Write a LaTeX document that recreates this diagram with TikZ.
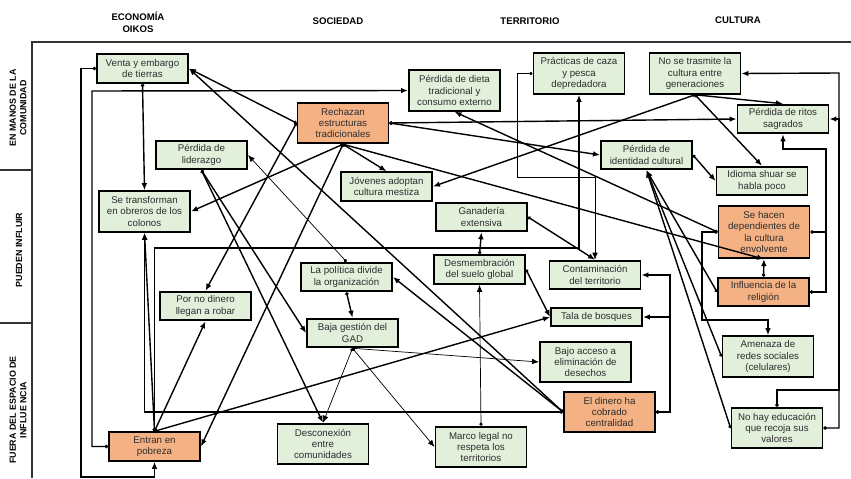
\documentclass[tikz,border=0pt]{standalone}
\usepackage{fontspec}
\setmainfont{Liberation Sans}
\usetikzlibrary{arrows.meta}
\definecolor{boxgreen}{RGB}{226,239,218}
\definecolor{boxorange}{RGB}{244,177,131}
\definecolor{txtgray}{RGB}{45,45,45}

\begin{document}
\begin{tikzpicture}[
		x=0.03cm, y=-0.03cm,
		box/.style={
			draw=black,
			line width=1.6pt,
			fill=boxgreen,
			rectangle,
			minimum width=2.73cm,
			minimum height=0.86cm,
			inner sep=1pt,
			align=center,
			text=txtgray,
			font=\fontsize{8.3}{9.6}\selectfont},
		box_hot/.style={box, fill=boxorange},
		three_lines/.style={minimum height=1.22cm},
		four_lines/.style={minimum height=1.57cm},
		one_line/.style={minimum height=0.56cm},
		link/.style={
			line width=1.2pt,
			{Circle[length=2.8pt]}-{Latex[length=6pt,width=4.8pt]}},
		link_thin/.style={link, line width=0.6pt},
		colhead/.style={font=\bfseries\fontsize{8.2}{10}\selectfont, align=center},
		rowhead/.style={font=\bfseries\fontsize{7.6}{9}\selectfont, align=center, rotate=90},
		frame/.style={line width=1.5pt, draw=black!80},
		]
		\useasboundingbox (0,0) rectangle (851,478);

		%Headers
		\node (h_eco)[colhead] at (138,22) {ECONOMÍA\\OIKOS};
		\node (h_soc)[colhead] at (338,21) {SOCIEDAD};
		\node (h_ter)[colhead] at (530,21) {TERRITORIO};
		\node (h_cul)[colhead] at (738,20) {CULTURA};
		\node (r_com)[rowhead] at (18,108) {EN MANOS DE LA\\COMUNIDAD};
		\node (r_inf)[rowhead] at (19,250) {PUEDEN INFLUIR};
		\node (r_out)[rowhead] at (18,410) {FUERA DEL ESPACIO DE\\INFLUE NCIA};
		\draw[frame] (32,478) |- (851,42);
		\draw[frame] (0,170) -- (32,170);
		\draw[frame] (0,323) -- (32,323);

		%Economia
		\node (venta)[box] at (142.5,68.5) {Venta y embargo\\de tierras};
		\node (obreros)[box, three_lines] at (144.5,211.5) {Se transforman\\en obreros de los\\colonos};
		\node (robar)[box] at (205.5,306) {Por no dinero\\llegan a robar};
		\node (pobreza)[box_hot] at (154.5,446.5) {Entran en\\pobreza};

		%Sociedad
		\node (rechazan)[box_hot, three_lines] at (343,123) {Rechazan\\estructuras\\tradicionales};
		\node (liderazgo)[box] at (201.5,155) {Pérdida de\\liderazgo};
		\node (jovenes)[box] at (386.5,186.5) {Jóvenes adoptan\\cultura mestiza};
		\node (dieta)[box, three_lines] at (454.5,90.5) {Pérdida de dieta\\tradicional y\\consumo externo};
		\node (politica)[box] at (346.5,277) {La política divide\\la organización};
		\node (gad)[box] at (352.5,333) {Baja gestión del\\GAD};
		\node (desconexion)[box, three_lines] at (323,444) {Desconexión\\entre\\comunidades};

		%Territorio
		\node (caza)[box, three_lines] at (579,73.5) {Prácticas de caza\\y pesca\\depredadora};
		\node (ganaderia)[box] at (481.5,217) {Ganadería\\extensiva};
		\node (desmembracion)[box] at (479.5,269.5) {Desmembración\\del suelo global};
		\node (contaminacion)[box] at (595,275) {Contaminación\\del territorio};
		\node (tala)[box, one_line] at (596.5,317) {Tala de bosques};
		\node (desechos)[box, three_lines] at (585.5,362) {Bajo acceso a\\eliminación de\\desechos};
		\node (dinero)[box_hot, three_lines] at (609.5,412) {El dinero ha\\cobrado\\centralidad};
		\node (marco)[box, three_lines] at (481,447) {Marco legal no\\respeta los\\territorios};

		%Cultura
		\node (trasmite)[box, three_lines] at (695,73.5) {No se trasmite la\\cultura entre\\generaciones};
		\node (ritos)[box] at (783,119) {Pérdida de ritos\\sagrados};
		\node (identidad)[box] at (646.5,155) {Pérdida de\\identidad cultural};
		\node (idioma)[box] at (762,181) {Idioma shuar se\\habla poco};
		\node (dependientes)[box_hot, four_lines] at (764,232) {Se hacen\\dependientes de\\la cultura\\envolvente};
		\node (religion)[box_hot] at (763.5,292) {Influencia de la\\religión};
		\node (amenaza)[box, three_lines] at (768,356.5) {Amenaza de\\redes sociales\\(celulares)};
		\node (educacion)[box, three_lines] at (777,428) {No hay educación\\que recoja sus\\valores};

		%Links from the economy column
		\draw[link] (venta.west) -| (81,477) -| (pobreza.south);
		\draw[link] (venta.south) -- (obreros.north);
		\draw[link] (pobreza.west) -| (92,91) -- (dieta.west);
		\draw[link] (pobreza.north) |- (579,248) -- (caza.south);
		\draw[link] (pobreza.north) -- (obreros.south);
		\draw[link] (pobreza.north) -- (robar.south);
		\draw[link] (pobreza.north) -- (tala.west);

		%Links from the society column
		\draw[link] (rechazan.west) -- (venta.east);
		\draw[link] (rechazan.west) -- (robar.north);
		\draw[link] (rechazan.east) -- (ritos.west);
		\draw[link] (rechazan.east) -- (identidad.west);
		\draw[link] (rechazan.south) -- (jovenes.north);
		\draw[link] (rechazan.south) -- (obreros.east);
		\draw[link] (rechazan.south) -- (dependientes.south);
		\draw[link] (rechazan.south) -- (pobreza.east);
		\draw[link] (liderazgo.south) -- (gad.west);
		\draw[link] (liderazgo.south) -- (desconexion.north);
		\draw[link_thin] (politica.north) -- (liderazgo.east);
		\draw[link] (politica.south) -- (gad.north);
		\draw[link_thin] (gad.south) -- (desconexion.north);
		\draw[link_thin] (gad.south) -- (marco.west);
		\draw[link_thin] (gad.south) -- (desechos.west);

		%Links from the territory column
		\draw[link_thin] (caza.west) -| (517,177) -| (contaminacion.north);
		\draw[link] (ganaderia.east) -- (contaminacion.north);
		\draw[link] (desmembracion.north) -- (ganaderia.south);
		\draw[link] (desmembracion.east) -- (tala.west);
		\draw[link_thin] (marco.north) -- (desmembracion.south);
		\draw[link] (dinero.west) -- (venta.east);
		\draw[link] (dinero.west) -- (politica.east);
		\draw[link] (dinero.west) -| (obreros.south);
		\draw[link] (dinero.east) -- ++(14,0) |- (contaminacion.east);
		\draw[link] (dinero.east) -- ++(14,0) |- (tala.east);

		%Links from the culture column
		\draw[link] (trasmite.south) -- (ritos.north);
		\draw[link] (trasmite.south) -- (idioma.north);
		\draw[link] (trasmite.south) -- (jovenes.east);
		\draw[link] (identidad.east) -- (idioma.west);
		\draw[link] (dependientes.west) -- (dieta.south);
		\draw[link] (dependientes.west) -| (702,320) -| (amenaza.north);
		\draw[line width=1.2pt, {Circle[length=2.8pt]}-] (dependientes.east) -- (826,232);
		\draw[link] (religion.east) -| (826,149) -| (ritos.south);
		\draw[link] (religion.north) -- (dependientes.south);
		\draw[link] (religion.west) -- (identidad.south);
		\draw[link] (amenaza.west) -- (identidad.south);
		\draw[link] (educacion.west) -- (identidad.south);
		\draw[link] (educacion.east) -| (839,73) -- (trasmite.east);
		\draw[link] (educacion.north) |- (839,390) |- (ritos.east);

	\end{tikzpicture}
\end{document}
